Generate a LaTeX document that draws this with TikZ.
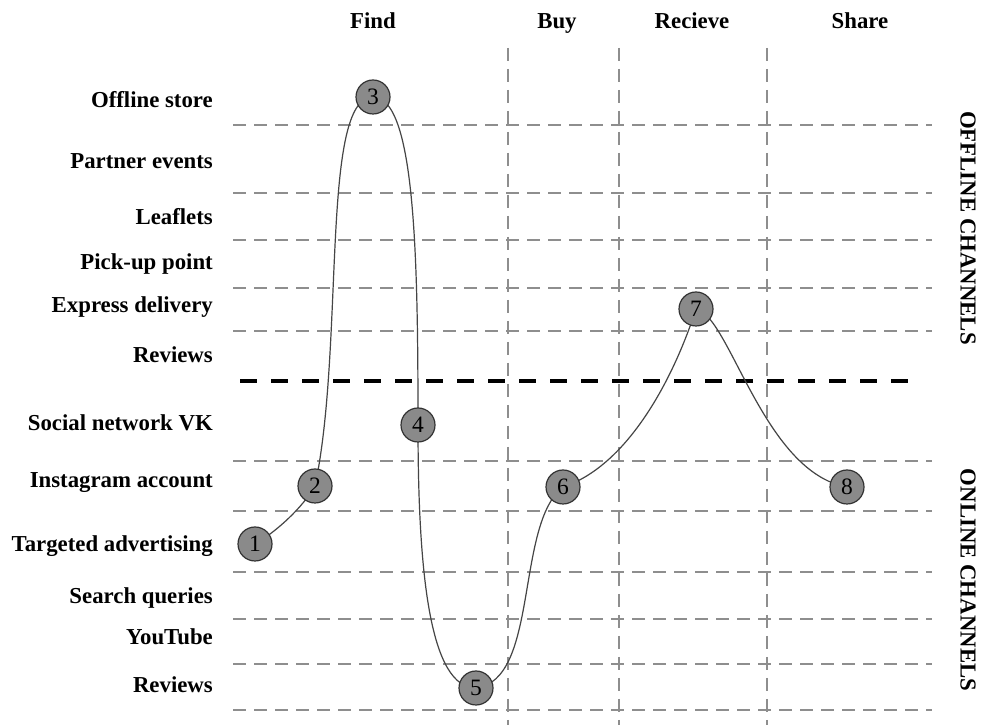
\documentclass[tikz,border=0pt]{standalone}
\usepackage{fontspec}
\setmainfont{Liberation Serif}
\definecolor{gridgray}{HTML}{8E8E8E}
\definecolor{nodegray}{HTML}{8A8A8A}
\definecolor{curvegray}{HTML}{454545}
\begin{document}
\begin{tikzpicture}[x=1pt,y=1pt,
  lab/.style={font=\fontsize{22.8}{27}\selectfont\bfseries, inner sep=0pt},
  headlab/.style={lab, anchor=base},
  rowlab/.style={lab, anchor=base east},
  sidelab/.style={lab, rotate=-90},
  gridline/.style={draw=gridgray, line width=1.8pt, dash pattern=on 13pt off 8pt},
  sepline/.style={draw=black, line width=3.2pt, dash pattern=on 17pt off 14pt},
  stepnode/.style={circle, draw=black!80, line width=1.2pt, fill=nodegray,
    minimum size=34pt, inner sep=0pt, font=\fontsize{23.5}{27}\selectfont},
  journey/.style={draw=curvegray, line width=1.2pt}]
\useasboundingbox (0,0) rectangle (985,725);
\fill[white] (0,0) rectangle (985,725);

% grid
\foreach \y in {600,532,485,437,394,264,214,153,106,61,15}
  \draw[gridline] (233,\y) -- (932,\y);
\foreach \x in {508,619,767}
  \draw[gridline] (\x,677) -- (\x,0);
\draw[sepline] (240,344) -- (908,344);

% column headers
\node[headlab] (hFind) at (373,696) {Find};
\node[headlab] (hBuy) at (557,696) {Buy};
\node[headlab] (hRec) at (692,696) {Recieve};
\node[headlab] (hShare) at (860,696) {Share};

% row labels
\node[rowlab] (r1) at (213,617.5) {Offline store};
\node[rowlab] (r2) at (213,556.5) {Partner events};
\node[rowlab] (r3) at (213,500.5) {Leaflets};
\node[rowlab] (r4) at (213,455.5) {Pick-up point};
\node[rowlab] (r5) at (213,412.5) {Express delivery};
\node[rowlab] (r6) at (213,362.5) {Reviews};
\node[rowlab] (r7) at (213,294.5) {Social network VK};
\node[rowlab] (r8) at (213,237.5) {Instagram account};
\node[rowlab] (r9) at (213,173.5) {Targeted advertising};
\node[rowlab] (r10) at (213,121.5) {Search queries};
\node[rowlab] (r11) at (213,80.5) {YouTube};
\node[rowlab] (r12) at (213,32.5) {Reviews};

% side labels
\node[sidelab] (off) at (968,497) {OFFLINE CHANNELS};
\node[sidelab] (on) at (968,145) {ONLINE CHANNELS};

% step nodes positions
\coordinate (p1) at (255,181);
\coordinate (p2) at (315,239);
\coordinate (p3) at (373,628);
\coordinate (p4) at (418,300);
\coordinate (p5) at (476,37);
\coordinate (p6) at (563,238);
\coordinate (p7) at (696,416);
\coordinate (p8) at (847,238);

% journey curve
\draw[journey] (p1)
  to[out=30, in=240, out distance=25pt, in distance=25pt] (p2)
  to[out=78, in=180, out distance=144pt, in distance=53pt] (p3)
  to[out=0, in=90, out distance=42pt, in distance=170pt] (p4)
  to[out=-90, in=180, out distance=150pt, in distance=46pt] (p5)
  to[out=7, in=218, out distance=64pt, in distance=61pt] (p6)
  to[out=18, in=252, out distance=65pt, in distance=80pt] (p7)
  to[out=-10, in=170, out distance=34pt, in distance=85pt] (p8);

% step nodes
\node[stepnode] (n1) at (p1) {1};
\node[stepnode] (n2) at (p2) {2};
\node[stepnode] (n3) at (p3) {3};
\node[stepnode] (n4) at (p4) {4};
\node[stepnode] (n5) at (p5) {5};
\node[stepnode] (n6) at (p6) {6};
\node[stepnode] (n7) at (p7) {7};
\node[stepnode] (n8) at (p8) {8};
\end{tikzpicture}
\end{document}
